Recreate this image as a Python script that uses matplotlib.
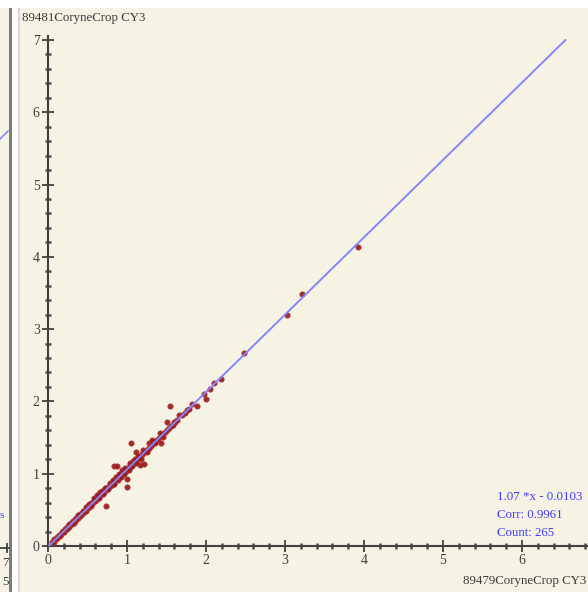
import matplotlib
matplotlib.use("Agg")
import matplotlib.pyplot as plt
from matplotlib.ticker import MultipleLocator
from matplotlib.patches import Rectangle
from matplotlib.lines import Line2D

# ---- data ----
x_vals = [0.05, 0.07, 0.08, 0.10, 0.11, 0.12, 0.14, 0.15, 0.16, 0.18, 0.19, 0.20, 0.22, 0.23, 0.24,
          0.25, 0.26, 0.28, 0.29, 0.30, 0.31, 0.32, 0.33, 0.34, 0.35, 0.36, 0.37, 0.38, 0.39, 0.40,
          0.41, 0.42, 0.43, 0.44, 0.45, 0.46, 0.47, 0.48, 0.49, 0.50, 0.51, 0.52, 0.53, 0.54, 0.55,
          0.56, 0.57, 0.58, 0.59, 0.60, 0.61, 0.62, 0.63, 0.64, 0.65, 0.66, 0.67, 0.68, 0.69, 0.70,
          0.71, 0.72, 0.73, 0.74, 0.74, 0.75, 0.76, 0.77, 0.78, 0.79, 0.80, 0.81, 0.82, 0.83, 0.83,
          0.84, 0.85, 0.86, 0.87, 0.87, 0.88, 0.89, 0.90, 0.91, 0.92, 0.93, 0.94, 0.95, 0.96, 0.97,
          0.98, 0.99, 1.00, 1.00, 1.00, 1.01, 1.02, 1.03, 1.04, 1.05, 1.05, 1.06, 1.07, 1.08, 1.09,
          1.10, 1.11, 1.11, 1.12, 1.13, 1.14, 1.15, 1.16, 1.17, 1.18, 1.19, 1.21, 1.20, 1.22, 1.24,
          1.26, 1.28, 1.28, 1.30, 1.32, 1.34, 1.36, 1.38, 1.40, 1.43, 1.44, 1.46, 1.48, 1.50, 1.50,
          1.53, 1.54, 1.56, 1.59, 1.58, 1.61, 1.63, 1.66, 1.70, 1.73, 1.76, 1.79, 1.82, 1.88, 1.97,
          2.00, 2.05, 2.10, 2.19, 2.48, 3.02, 3.22, 3.92,
          0.27, 0.33, 0.38, 0.44, 0.48, 0.52, 0.55, 0.58, 0.62, 0.64, 0.66, 0.68, 0.70, 0.72, 0.76,
          0.78, 0.80, 0.82, 0.84, 0.86, 0.88, 0.90, 0.92, 0.94, 0.96, 0.98, 1.02, 1.04, 1.06, 1.08,
          1.10, 1.12, 1.14, 1.18, 1.20, 1.25, 1.32, 1.36, 1.42, 1.46]
y_vals = [0.05, 0.06, 0.09, 0.10, 0.12, 0.11, 0.15, 0.14, 0.17, 0.19, 0.21, 0.20, 0.23, 0.25, 0.24,
          0.27, 0.26, 0.29, 0.31, 0.30, 0.33, 0.35, 0.34, 0.37, 0.36, 0.38, 0.40, 0.39, 0.42, 0.41,
          0.44, 0.43, 0.46, 0.45, 0.48, 0.47, 0.50, 0.49, 0.53, 0.52, 0.55, 0.54, 0.57, 0.56, 0.60,
          0.58, 0.61, 0.63, 0.62, 0.65, 0.64, 0.67, 0.66, 0.69, 0.71, 0.70, 0.72, 0.74, 0.73, 0.76,
          0.75, 0.78, 0.77, 0.80, 0.56, 0.79, 0.82, 0.81, 0.84, 0.83, 0.86, 0.85, 0.88, 0.87, 1.10,
          0.90, 0.91, 0.93, 0.92, 1.10, 0.95, 0.94, 0.97, 0.96, 0.99, 0.98, 1.01, 1.00, 1.03, 1.02,
          1.05, 1.04, 1.07, 0.92, 0.82, 1.06, 1.09, 1.08, 1.12, 1.10, 1.43, 1.13, 1.15, 1.14, 1.17,
          1.16, 1.30, 1.19, 1.18, 1.21, 1.20, 1.23, 1.12, 1.25, 1.24, 1.27, 1.14, 1.29, 1.30, 1.32,
          1.34, 1.42, 1.36, 1.38, 1.41, 1.44, 1.45, 1.47, 1.50, 1.42, 1.53, 1.55, 1.58, 1.71, 1.60,
          1.63, 1.94, 1.66, 1.72, 1.68, 1.71, 1.74, 1.81, 1.81, 1.84, 1.88, 1.90, 1.96, 1.93, 2.10,
          2.04, 2.17, 2.26, 2.31, 2.67, 3.20, 3.49, 4.13,
          0.30, 0.32, 0.43, 0.49, 0.54, 0.58, 0.57, 0.66, 0.70, 0.66, 0.75, 0.76, 0.72, 0.80, 0.79,
          0.87, 0.84, 0.91, 0.86, 0.96, 0.91, 1.00, 0.95, 1.05, 0.99, 1.08, 1.05, 1.15, 1.10, 1.18,
          1.21, 1.15, 1.25, 1.21, 1.33, 1.30, 1.46, 1.42, 1.56, 1.51]

fit_slope = 1.07
fit_intercept = -0.0103
corr = 0.9961
count = 265
x_ticks = [0, 1, 2, 3, 4, 5, 6]
y_ticks = [0, 1, 2, 3, 4, 5, 6, 7]
y_title = "89481CoryneCrop CY3"
x_title = "89479CoryneCrop CY3"

W, H = 588, 592
BG = "#F6F3E4"
fig = plt.figure(figsize=(W / 100, H / 100), dpi=100, facecolor=BG)

def fx(px):
    return px / W

def fy(py):
    return 1 - py / H

# window chrome
fig.patches.append(Rectangle((0, fy(8)), 1, 8 / H, transform=fig.transFigure,
                             facecolor="white", edgecolor="none", zorder=0))
fig.patches.append(Rectangle((fx(9), 0), 3 / W, fy(8), transform=fig.transFigure,
                             facecolor="#7c7c7c", edgecolor="none", zorder=1))
fig.patches.append(Rectangle((fx(12), 0), 6 / W, fy(8), transform=fig.transFigure,
                             facecolor="white", edgecolor="none", zorder=1))
fig.patches.append(Rectangle((fx(18), 0), 2 / W, fy(8), transform=fig.transFigure,
                             facecolor="#d8d8d8", edgecolor="none", zorder=1))
# fragments of neighbouring panel
fig.lines.append(Line2D([fx(0), fx(8)], [fy(139), fy(131)], transform=fig.transFigure,
                        color="#7d7dff", lw=1.1))
fig.lines.append(Line2D([fx(0), fx(9)], [fy(548), fy(548)], transform=fig.transFigure,
                        color="#404040", lw=1.3))
fig.lines.append(Line2D([fx(7), fx(7)], [fy(544), fy(552)], transform=fig.transFigure,
                        color="#404040", lw=1.3))
fig.text(fx(0), fy(516), "s", color="#4040ff", fontsize=8, family="Liberation Serif",
         va="center", ha="left")
fig.text(fx(2), fy(563), "7", color="#404040", fontsize=9.5, family="Liberation Serif",
         va="center", ha="left")
fig.text(fx(2), fy(582), "5", color="#404040", fontsize=9.5, family="Liberation Serif",
         va="center", ha="left")

# main axes: x=0 at px 48, y=0 at px 546
left, right, bottom, top = 48, 588, 546, 36
ax = fig.add_axes([fx(left), fy(bottom), (right - left) / W, (bottom - top) / H])
ax.set_facecolor("none")
ax.set_xlim(0, (right - left) / 79.0)
ax.set_ylim(0, (bottom - top) / 72.3)

for s in ["top", "right"]:
    ax.spines[s].set_visible(False)
for s in ["left", "bottom"]:
    ax.spines[s].set_color("#404040")
    ax.spines[s].set_linewidth(1.5)

ax.set_xticks(x_ticks)
ax.set_yticks(y_ticks)
ax.xaxis.set_minor_locator(MultipleLocator(0.2))
ax.yaxis.set_minor_locator(MultipleLocator(0.2))
ax.tick_params(which="major", direction="inout", length=8, width=1.3, color="#404040",
               labelsize=10, labelcolor="#404040", pad=2)
ax.tick_params(which="minor", direction="inout", length=4, width=1.8, color="#505050")
for lab in ax.get_xticklabels() + ax.get_yticklabels():
    lab.set_family("Liberation Serif")

ax.scatter(x_vals, y_vals, s=15, color="#951616", edgecolors="#b53a3a", linewidths=0.5,
           alpha=0.9, zorder=3, clip_on=False)

y_top = 7.0
x_end = (y_top - fit_intercept) / fit_slope
ax.plot([0, x_end], [fit_intercept, fit_slope * x_end + fit_intercept], color="#8585ff",
        lw=1.4, zorder=4, solid_capstyle="round")

fig.text(fx(22), fy(18), y_title, fontsize=9.3, family="Liberation Serif", color="#3a3a3a",
         va="center", ha="left")
fig.text(fx(463), fy(581), x_title, fontsize=9.3, family="Liberation Serif", color="#3a3a3a",
         va="center", ha="left")

stat_lines = [f"{fit_slope:.2f} *x - {abs(fit_intercept):.4f}", f"Corr: {corr}",
              f"Count: {count}"]
for i, t in enumerate(stat_lines):
    fig.text(fx(497), fy(497 + 18 * i), t, fontsize=9.3, family="Liberation Serif",
             color="#3c3cff", va="center", ha="left")

fig.savefig("out.png", dpi=100, facecolor=BG)
